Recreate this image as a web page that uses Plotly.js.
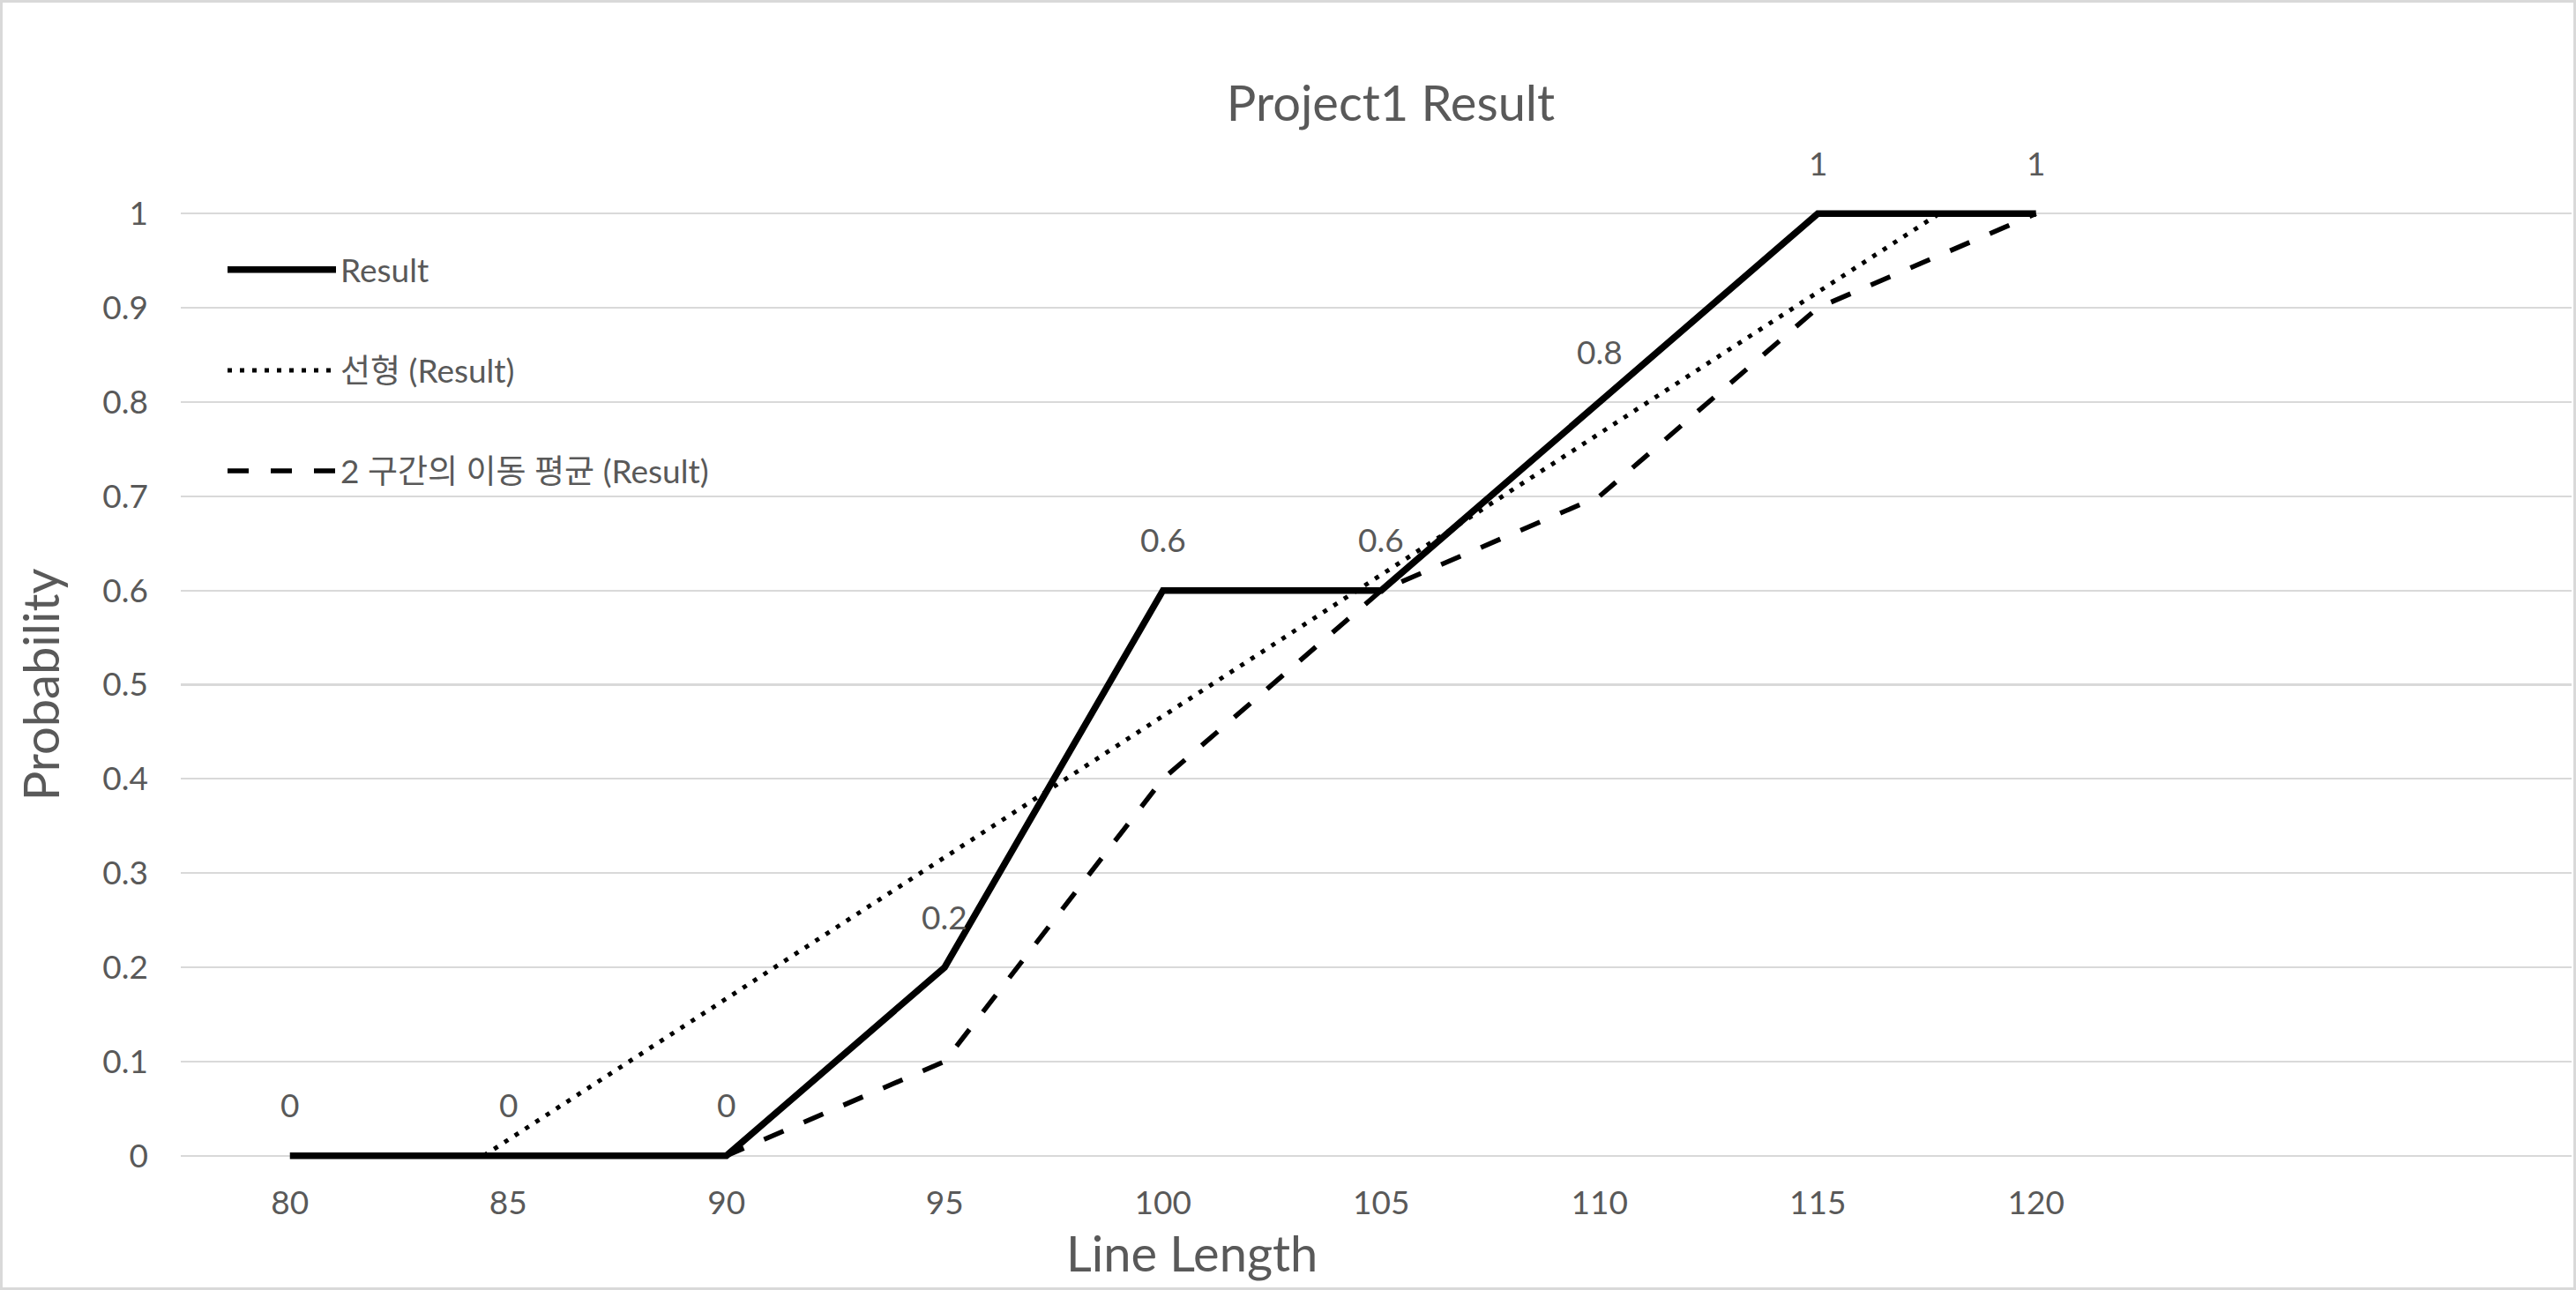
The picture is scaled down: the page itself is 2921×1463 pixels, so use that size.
<!DOCTYPE html>
<html>
<head>
<meta charset="utf-8">
<script src="https://cdn.plot.ly/plotly-3.0.1.min.js"></script>
<style>
  html, body { margin: 0; padding: 0; background: #ffffff; }
  #wrap { position: relative; width: 2921px; height: 1463px; }
  #chart { position: absolute; left: 0; top: 0; width: 2921px; height: 1463px; }
  #frame { position: absolute; left: 0; top: 0; width: 2921px; height: 1463px; box-sizing: border-box; border: 3px solid #d9d9d9; pointer-events: none; }
</style>
</head>
<body>
<div id="wrap"><div id="chart"></div><div id="frame"></div></div>
<script>
// ---- data ----
const lineLength = [80, 85, 90, 95, 100, 105, 110, 115, 120];
const resultProb = [0, 0, 0, 0.2, 0.6, 0.6, 0.8, 1, 1];
// 2-period moving average of Result, as drawn (starts at the 2nd point)
const movAvgX = [85, 90, 95, 100, 105, 110, 115, 120];
const movAvgY = [0, 0, 0.1, 0.4, 0.6, 0.7, 0.9, 1];
// linear trendline, visible segment inside the 0..1 axis range
const trendX = [84.44, 117.78];
const trendY = [0, 1];
const yTickVals = [0, 0.1, 0.2, 0.3, 0.4, 0.5, 0.6, 0.7, 0.8, 0.9, 1];
const yTickText = ['0', '0.1', '0.2', '0.3', '0.4', '0.5', '0.6', '0.7', '0.8', '0.9', '1'];
const xTickText = ['80', '85', '90', '95', '100', '105', '110', '115', '120'];
const seriesNames = ['Result', '선형 (Result)', '2 구간의 이동 평균 (Result)'];
const chartTitle = 'Project1 Result';
const xTitle = 'Line Length';
const yTitle = 'Probability';

// ---- styling ----
const FONT = 'Lato, "Noto Sans CJK KR", "Noto Sans", sans-serif';
const GREY = '#595959';
const W = 2921, H = 1463;
const M = { l: 205, r: 5, t: 236.7, b: 146.7 };
const PW = W - M.l - M.r, PH = H - M.t - M.b;
const px2paperX = (px) => (px - M.l) / PW;
const py2paperY = (py) => (H - M.b - py) / PH;

const traces = [
  {
    x: lineLength, y: resultProb, name: seriesNames[0], type: 'scatter', mode: 'lines',
    line: { color: '#000000', width: 7.5 }, legendgroup: 'a'
  },
  {
    x: trendX, y: trendY, name: seriesNames[1], type: 'scatter', mode: 'lines',
    line: { color: '#000000', width: 5, dash: '5px,9px' }, legendgroup: 'b'
  },
  {
    x: movAvgX, y: movAvgY, name: seriesNames[2], type: 'scatter', mode: 'lines',
    line: { color: '#000000', width: 5.5, dash: '24px,25px' }, legendgroup: 'c'
  }
];

const annotations = lineLength.map((xv, i) => ({
  x: xv, y: resultProb[i], xref: 'x', yref: 'y',
  text: String(resultProb[i]), showarrow: false,
  xanchor: 'center', yanchor: 'middle', yshift: 58,
  font: { family: FONT, size: 37, color: GREY }
}));
annotations.push({
  x: px2paperX(1351), y: py2paperY(1421), xref: 'paper', yref: 'paper',
  text: xTitle, showarrow: false, xanchor: 'center', yanchor: 'middle',
  font: { family: FONT, size: 56, color: GREY }
});

const layout = {
  width: W, height: H,
  paper_bgcolor: '#ffffff', plot_bgcolor: '#ffffff',
  margin: { l: M.l, r: M.r, t: M.t, b: M.b, pad: 0, autoexpand: false },
  font: { family: FONT, color: GREY, size: 37 },
  title: {
    text: chartTitle, font: { family: FONT, size: 56, color: GREY },
    xref: 'container', yref: 'container', x: 1577 / W, y: 1 - 117 / H,
    xanchor: 'center', yanchor: 'middle'
  },
  xaxis: {
    type: 'linear', range: [77.5, 132.27],
    tickvals: lineLength, ticktext: xTickText,
    showgrid: false, zeroline: false, showline: false, ticks: '',
    ticklabelstandoff: 23, automargin: false,
    tickfont: { family: FONT, size: 37, color: GREY }
  },
  yaxis: {
    range: [-0.005, 1.005],
    tickvals: yTickVals, ticktext: yTickText,
    showgrid: true, gridcolor: '#d9d9d9', gridwidth: 2.2,
    zeroline: false, showline: false, ticks: '',
    ticklabelstandoff: 36, automargin: false,
    tickfont: { family: FONT, size: 37, color: GREY },
    title: { text: yTitle, font: { family: FONT, size: 56, color: GREY }, standoff: 30 }
  },
  showlegend: true,
  legend: {
    xref: 'paper', yref: 'paper',
    x: px2paperX(253), y: py2paperY(275), xanchor: 'left', yanchor: 'top',
    bgcolor: 'rgba(0,0,0,0)', borderwidth: 0,
    font: { family: FONT, size: 37, color: GREY },
    itemwidth: 123, tracegroupgap: 63, traceorder: 'grouped'
  },
  annotations: annotations
};

Plotly.newPlot('chart', traces, layout, { displayModeBar: false, staticPlot: true });
</script>
</body>
</html>
